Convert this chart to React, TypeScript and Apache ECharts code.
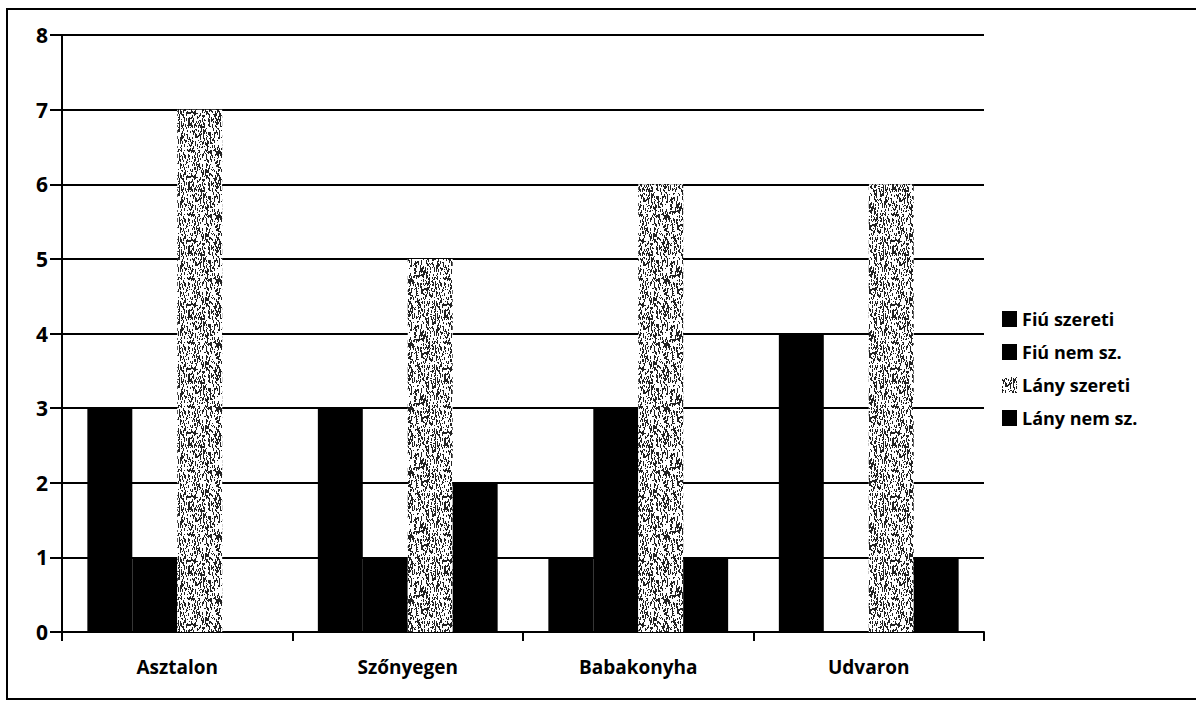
import React, { useEffect, useRef } from "react";
import * as echarts from "echarts";

const categories = ["Asztalon", "Szőnyegen", "Babakonyha", "Udvaron"];
const seriesNames = ["Fiú szereti", "Fiú nem sz.", "Lány szereti", "Lány nem sz."];
const fiuSzereti = [3, 3, 1, 4];
const fiuNemSz = [1, 1, 3, 0];
const lanySzereti = [7, 5, 6, 6];
const lanyNemSz = [0, 2, 1, 1];
const yTicks = [0, 1, 2, 3, 4, 5, 6, 7, 8];

function makeStipple(): HTMLCanvasElement {
  const size = 64;
  const c = document.createElement("canvas");
  c.width = size;
  c.height = size;
  const ctx = c.getContext("2d")!;
  ctx.fillStyle = "#ffffff";
  ctx.fillRect(0, 0, size, size);
  ctx.fillStyle = "#222222";
  let s = 987654321;
  const next = () => {
    s ^= s << 13;
    s ^= s >>> 17;
    s ^= s << 5;
    return (s >>> 0) / 4294967296;
  };
  for (let i = 0; i < 950; i++) {
    const x = Math.floor(next() * size);
    const y = Math.floor(next() * size);
    const h = 1 + Math.floor(next() * 3);
    ctx.fillRect(x, y, 1, h);
  }
  return c;
}

export default function App() {
  const ref = useRef<HTMLDivElement>(null);
  useEffect(() => {
    const chart = echarts.init(ref.current!, undefined, { renderer: "svg" });
    const stipple = { image: makeStipple(), repeat: "repeat" } as any;
    const font = "Open Sans";
    chart.setOption({
      animation: false,
      backgroundColor: "#ffffff",
      textStyle: { fontFamily: font },
      graphic: [
        {
          type: "rect",
          shape: { x: 7, y: 9, width: 1200, height: 690 },
          style: { fill: "none", stroke: "#000", lineWidth: 2 },
          silent: true,
        },
      ],
      legend: {
        orient: "vertical",
        left: 997,
        top: 305,
        itemWidth: 15,
        itemHeight: 16,
        itemGap: 15,
        icon: "rect",
        data: seriesNames,
        textStyle: { fontFamily: font, fontWeight: "bold", fontSize: 18, color: "#000" },
      },
      grid: { left: 62, top: 35, right: 212, bottom: 75, containLabel: false },
      xAxis: {
        type: "category",
        data: categories,
        axisLine: { lineStyle: { color: "#000", width: 2 } },
        axisTick: { show: true, length: 9, lineStyle: { color: "#000", width: 2 } },
        axisLabel: { fontFamily: font, fontWeight: "bold", fontSize: 19, color: "#000", margin: 25 },
      },
      yAxis: {
        type: "value",
        min: 0,
        max: 8,
        interval: 1,
        axisLine: { show: true, lineStyle: { color: "#000", width: 2 } },
        axisTick: { show: true, length: 12, lineStyle: { color: "#000", width: 2 } },
        axisLabel: {
          fontFamily: font,
          fontWeight: "bold",
          fontSize: 21,
          color: "#000",
          margin: 14,
          formatter: (v: number) => (yTicks.includes(v) ? String(v) : ""),
        },
        splitLine: { show: true, lineStyle: { color: "#000", width: 2 } },
      },
      series: [
        { name: seriesNames[0], type: "bar", data: fiuSzereti, barGap: "0%", barCategoryGap: "22%", itemStyle: { color: "#000" } },
        { name: seriesNames[1], type: "bar", data: fiuNemSz, itemStyle: { color: "#000" } },
        { name: seriesNames[2], type: "bar", data: lanySzereti, itemStyle: { color: stipple } },
        { name: seriesNames[3], type: "bar", data: lanyNemSz, itemStyle: { color: "#000" } },
      ],
    });
    return () => chart.dispose();
  }, []);
  return (
    <div
      ref={ref}
      style={{ position: "fixed", left: 0, top: 0, width: 1196, height: 707 }}
    />
  );
}
